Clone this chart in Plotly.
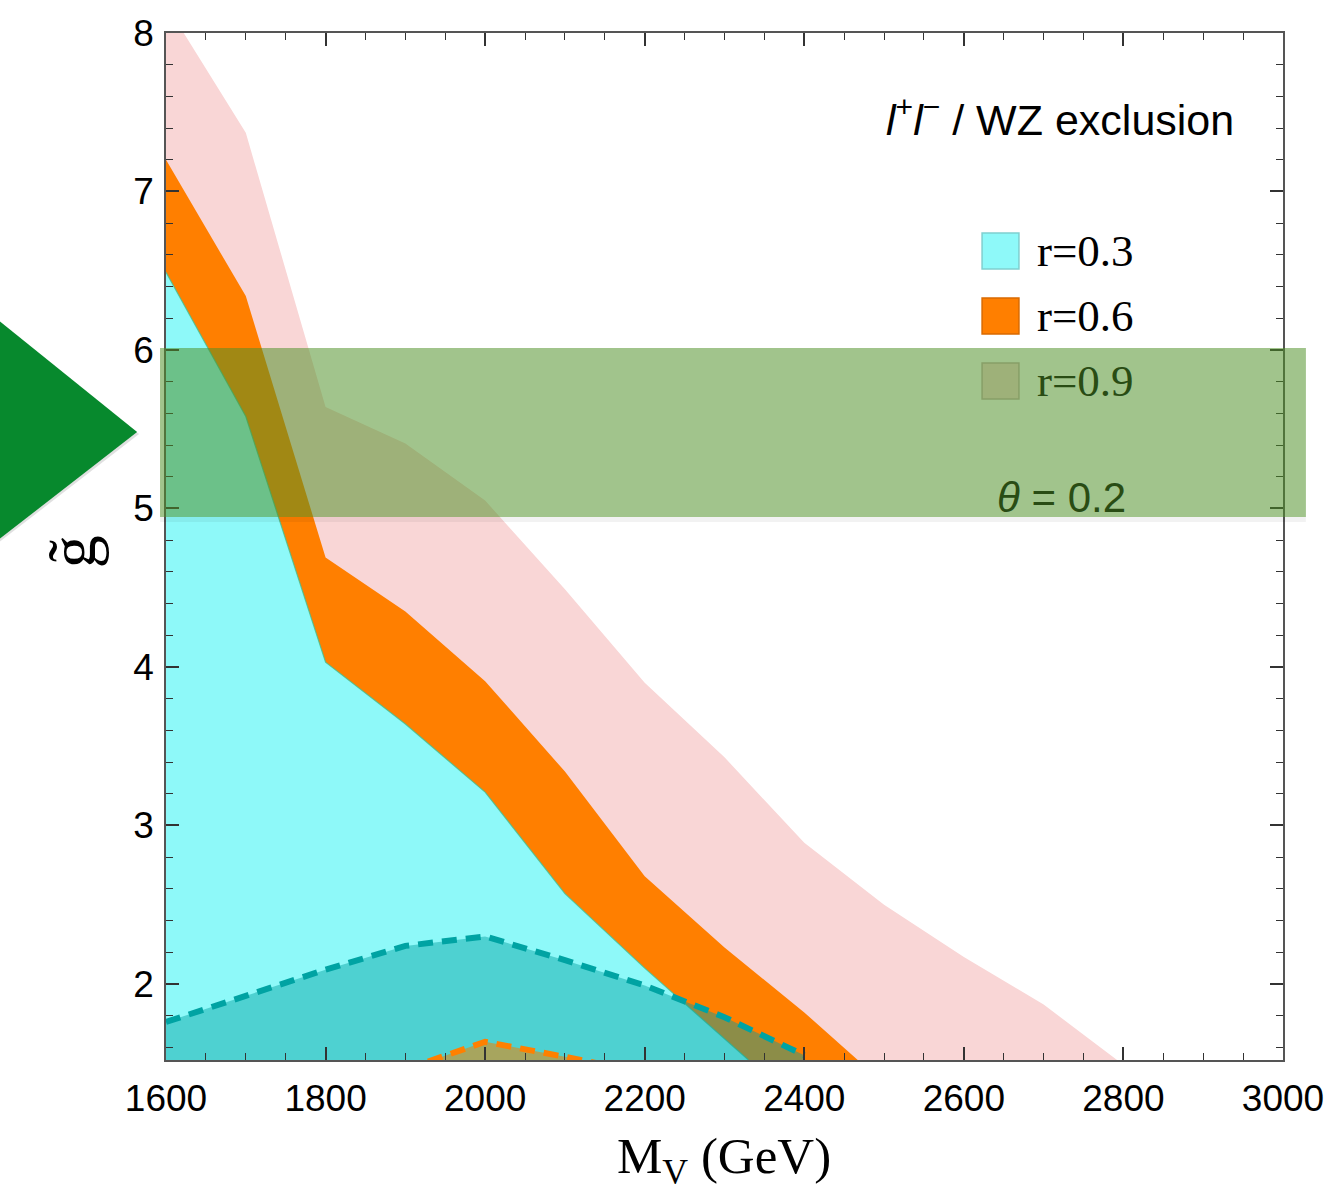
import plotly.graph_objects as go

# ---------------- data ----------------
mass_r09 = [1600, 1700, 1800, 1900, 2000, 2100, 2200, 2300, 2400, 2500, 2600, 2700, 2792]
g_r09 = [8.18, 7.37, 5.64, 5.41, 5.05, 4.49, 3.90, 3.43, 2.89, 2.50, 2.17, 1.87, 1.52]

mass_r06 = [1600, 1700, 1800, 1900, 2000, 2100, 2200, 2300, 2400, 2467]
g_r06 = [7.20, 6.34, 4.69, 4.35, 3.91, 3.34, 2.68, 2.23, 1.82, 1.52]

mass_r03 = [1600, 1700, 1800, 1900, 2000, 2100, 2200, 2300, 2330]
g_r03 = [6.49, 5.58, 4.03, 3.64, 3.21, 2.57, 2.10, 1.65, 1.52]

mass_r03_dash = [1600, 1700, 1800, 1900, 2000, 2100, 2200, 2300, 2400]
g_r03_dash = [1.76, 1.93, 2.09, 2.24, 2.30, 2.15, 1.99, 1.79, 1.55]

mass_r06_dash = [1900, 2000, 2100, 2200]
g_r06_dash = [1.46, 1.635, 1.54, 1.44]

legend_labels = ["r=0.3", "r=0.6", "r=0.9"]
x_ticks = [1600, 1800, 2000, 2200, 2400, 2600, 2800, 3000]
y_ticks = [2, 3, 4, 5, 6, 7, 8]

# ---------------- layout helpers (pixel -> paper) ----------------
W, H = 1336, 1194
L, R, T, B = 166, 1287, 33, 1060


def px(X):
    return (X - L) / (R - L)


def py(Y):
    return (B - Y) / (B - T)


fig = go.Figure()

fig.add_trace(go.Scatter(x=mass_r09, y=g_r09, mode="lines", line=dict(width=0, color="#f9d6d6"),
                         fill="tozeroy", fillcolor="#f9d6d6", showlegend=False, hoverinfo="skip"))
fig.add_trace(go.Scatter(x=mass_r06, y=g_r06, mode="lines", line=dict(width=0, color="#ff7f00"),
                         fill="tozeroy", fillcolor="#ff7f00", showlegend=False, hoverinfo="skip"))
fig.add_trace(go.Scatter(x=mass_r03, y=g_r03, mode="lines", line=dict(width=1.2, color="rgba(70,190,140,0.8)"),
                         fill="tozeroy", fillcolor="#8ef9f9", showlegend=False, hoverinfo="skip"))
fig.add_trace(go.Scatter(x=mass_r03_dash, y=g_r03_dash, mode="lines",
                         line=dict(width=6, color="#00a3a3", dash="15px,9px"),
                         fill="tozeroy", fillcolor="rgba(0,160,160,0.45)", showlegend=False, hoverinfo="skip"))
fig.add_trace(go.Scatter(x=mass_r06_dash, y=g_r06_dash, mode="lines",
                         line=dict(width=6, color="#ff8000", dash="15px,9px"),
                         fill="tozeroy", fillcolor="rgba(240,130,0,0.55)", showlegend=False, hoverinfo="skip"))

shapes = []
# legend swatches
sw_colors = [("#8ef9f9", "#7fcfcf"), ("#ff7f00", "#d96a00"), ("#f9d6d6", "#c8b0b0")]
sw_y = [251, 316, 381]
for (fc, lc), yc in zip(sw_colors, sw_y):
    shapes.append(dict(type="rect", xref="paper", yref="paper",
                       x0=px(985), x1=px(1022), y0=py(yc + 18), y1=py(yc - 18),
                       fillcolor=fc, line=dict(color=lc, width=1.5), layer="above"))
# overlay shadow
shapes.append(dict(type="rect", xref="paper", yref="paper",
                   x0=px(160), x1=px(1310), y0=py(522), y1=py(517),
                   fillcolor="rgba(0,0,0,0.05)", line=dict(width=0), layer="above"))
# green highlight bar
shapes.append(dict(type="rect", xref="paper", yref="paper",
                   x0=px(160), x1=px(1310), y0=py(517), y1=py(348),
                   fillcolor="rgba(78,144,37,0.53)", line=dict(width=0), layer="above"))
# arrow shadow + arrow
shapes.append(dict(type="path", xref="paper", yref="paper",
                   path=f"M {px(-5)},{py(322)} L {px(139)},{py(434)} L {px(-5)},{py(545)} Z",
                   fillcolor="rgba(0,0,0,0.12)", line=dict(width=0), layer="above"))
shapes.append(dict(type="path", xref="paper", yref="paper",
                   path=f"M {px(-5)},{py(318)} L {px(137)},{py(432)} L {px(-5)},{py(542)} Z",
                   fillcolor="#07892d", line=dict(width=0), layer="above"))

annotations = [
    dict(text="<i>l</i><sup>+</sup><i>l</i><sup>−</sup> / WZ exclusion", xref="paper", yref="paper",
         x=px(1240), y=py(117), xanchor="right", yanchor="middle", showarrow=False,
         font=dict(family="Liberation Sans", size=43, color="black")),
    dict(text="<i>θ</i> = 0.2", xref="paper", yref="paper",
         x=px(1065), y=py(497), xanchor="center", yanchor="middle", showarrow=False,
         font=dict(family="Liberation Sans", size=42, color="rgb(41,76,20)")),
    dict(text="M<sub>V</sub> (GeV)", xref="paper", yref="paper",
         x=px(726), y=py(1160), xanchor="center", yanchor="middle", showarrow=False,
         font=dict(family="Liberation Serif", size=51, color="black")),
    dict(text="g\u0303", xref="paper", yref="paper", textangle=-90,
         x=px(72), y=py(552), xanchor="center", yanchor="middle", showarrow=False,
         font=dict(family="Liberation Serif", size=66, color="black")),
]
leg_colors = ["black", "black", "rgb(41,76,20)"]
for lab, yc, c in zip(legend_labels, sw_y, leg_colors):
    annotations.append(dict(text=lab, xref="paper", yref="paper", x=px(1038), y=py(yc),
                            xanchor="left", yanchor="middle", showarrow=False,
                            font=dict(family="Liberation Serif", size=45, color=c)))

axis_common = dict(ticks="inside", tickwidth=1.5, tickcolor="#333", showline=True,
                   linecolor="#555", linewidth=1.5, mirror="allticks", showgrid=False,
                   zeroline=False, tickfont=dict(family="Liberation Sans", size=37, color="black"))

fig.update_layout(
    width=W, height=H,
    margin=dict(l=L, r=W - R, t=T, b=H - B),
    plot_bgcolor="white", paper_bgcolor="white",
    showlegend=False,
    xaxis=dict(range=[1600, 3000], tickvals=x_ticks, ticklen=13, ticklabelstandoff=5,
               minor=dict(dtick=50, tick0=1600, ticks="inside", ticklen=7, tickcolor="#333", tickwidth=1.2),
               **axis_common),
    yaxis=dict(range=[1.52, 8], tickvals=y_ticks, ticklen=13, ticklabelstandoff=3,
               minor=dict(dtick=0.2, tick0=0, ticks="inside", ticklen=7, tickcolor="#333", tickwidth=1.2),
               **axis_common),
    shapes=shapes,
    annotations=annotations,
)

fig.write_html("out.html")
